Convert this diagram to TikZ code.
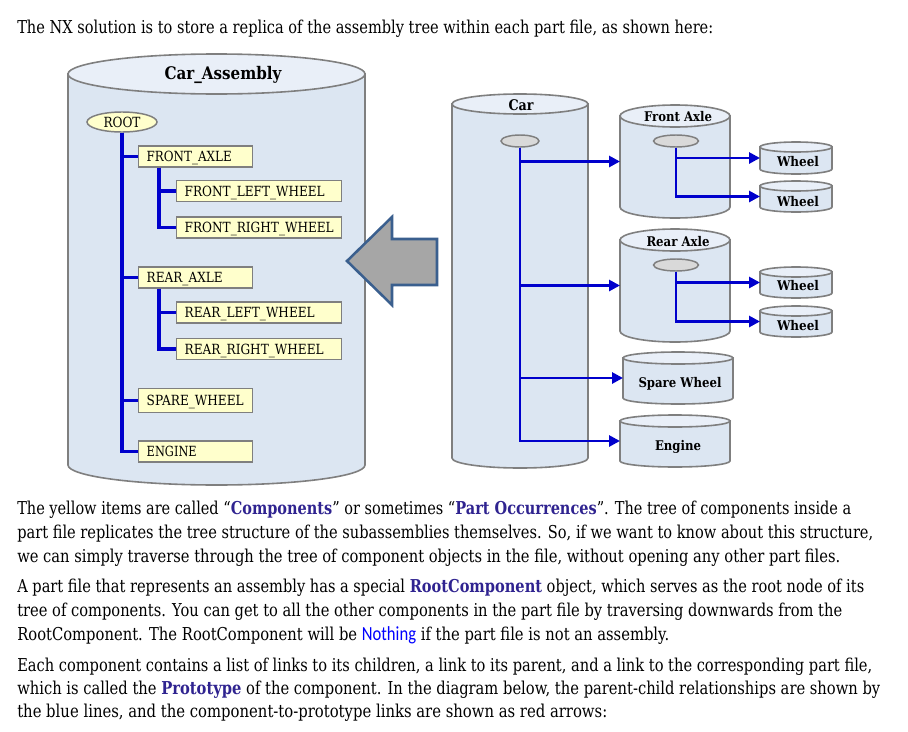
\documentclass[tikz,border=0pt]{standalone}
\usepackage{fontspec}
\setmainfont{DejaVu Serif}
\newfontfamily\calfont{Carlito}
\usepackage{graphicx}
\usetikzlibrary{arrows.meta,shapes.geometric}
\definecolor{cylbodyc}{HTML}{DCE6F2}
\definecolor{cyltopc}{HTML}{E9EFF8}
\definecolor{cyllinec}{HTML}{7F7F7F}
\definecolor{boxfillc}{HTML}{FFFFCC}
\definecolor{treeblue}{HTML}{0000CC}
\definecolor{arrowgray}{HTML}{A6A6A6}
\definecolor{arrowblue}{HTML}{3A5F8E}
\definecolor{smallgray}{HTML}{D9D9D9}
\definecolor{hl}{HTML}{2F2390}
\definecolor{nblue}{HTML}{0000FF}
\newsavebox\fitbox
\newlength\fitlen
\newcommand\fitw[2]{\sbox\fitbox{#2}\setlength\fitlen{\wd\fitbox}\pgfmathsetmacro\fitsx{#1*0.75/\fitlen}\scalebox{\fitsx}[1]{\usebox\fitbox}}
% cylinder: #1 name, #2 x1, #3 x2, #4 y of top ellipse centre, #5 y of bottom arc centre, #6 ry
\newcommand\mycyl[6]{%
  \pgfmathsetmacro\cylrx{(#3-#2)/2*0.75}%
  \pgfmathsetmacro\cylry{#6*0.75}%
  \pgfmathsetmacro\cylcx{(#2+#3)/2}%
  \pgfmathsetmacro\cylcy{(#4+#5)/2}%
  \path[cylbody] (#2,#4) -- (#2,#5) arc[start angle=180,end angle=360,x radius=\cylrx pt,y radius=\cylry pt] -- (#3,#4) -- cycle;
  \path[cyltop] (\cylcx,#4) ellipse[x radius=\cylrx pt,y radius=\cylry pt];
  \node[inner sep=0pt,outer sep=0pt,minimum width={(#3-#2)*0.75pt},minimum height={(#5-#4)*0.75pt}] (#1) at (\cylcx,\cylcy) {};
}
\begin{document}
\begin{tikzpicture}[x=0.75pt,y=-0.75pt,
  cylbody/.style={fill=cylbodyc,draw=cyllinec,line width=1.2pt},
  cyltop/.style={fill=cyltopc,draw=cyllinec,line width=1.2pt},
  smallell/.style={ellipse,draw=cyllinec,fill=smallgray,line width=1.1pt,inner sep=0pt},
  box/.style={rectangle,draw=cyllinec,fill=boxfillc,line width=1.1pt,anchor=west,
    minimum height=21*0.75pt,text height=7.5pt,text depth=0pt,inner xsep=8*0.75pt,inner ysep=0pt,
    align=left,font=\fontsize{10.5pt}{12pt}\selectfont},
  shortbox/.style={box,text width=98*0.75pt},
  longbox/.style={box,text width=149*0.75pt},
  tree/.style={draw=treeblue,line width=2.3pt},
  conn/.style={draw=treeblue,line width=2.2pt,-{Triangle[length=8.25pt,width=8.25pt]}},
  lbl/.style={anchor=base,inner sep=0pt,font=\fontsize{10pt}{12pt}\selectfont\bfseries},
  txt/.style={anchor=base west,inner sep=0pt,font=\fontsize{13.3pt}{16pt}\selectfont}]
\useasboundingbox (0,0) rectangle (908,732);
\fill[white] (0,0) rectangle (908,732);

% ---------- cylinders ----------
\mycyl{cBig}{68}{365}{74}{465}{20}
\mycyl{cCar}{452}{588}{104}{458}{10}
\mycyl{cFA}{620}{730}{116}{207}{11}
\mycyl{cRA}{620}{730}{240}{331}{11}
\mycyl{cW1}{760}{832}{147}{169}{5}
\mycyl{cW2}{760}{832}{186}{207}{5}
\mycyl{cW3}{760}{832}{272}{293}{5}
\mycyl{cW4}{760}{832}{311}{332}{5}
\mycyl{cSW}{623}{733}{358}{398}{6}
\mycyl{cEN}{620}{730}{421}{461}{6}

% ---------- cylinder labels ----------
\node[lbl,font=\fontsize{13pt}{15pt}\selectfont\bfseries] (lBig) at (223,79) {\fitw{117}{Car\_Assembly}};
\node[lbl,font=\fontsize{11pt}{13pt}\selectfont\bfseries] (lCar) at (521,110) {\fitw{25}{Car}};
\node[lbl] (lFA) at (678,121) {\fitw{68}{Front Axle}};
\node[lbl] (lRA) at (678,246) {\fitw{63}{Rear Axle}};
\node[lbl] (lW1) at (798,166) {\fitw{42}{Wheel}};
\node[lbl] (lW2) at (798,206) {\fitw{42}{Wheel}};
\node[lbl] (lW3) at (798,290) {\fitw{42}{Wheel}};
\node[lbl] (lW4) at (798,330) {\fitw{42}{Wheel}};
\node[lbl] (lSW) at (680,387) {\fitw{83}{Spare Wheel}};
\node[lbl] (lEN) at (678,450) {\fitw{46}{Engine}};

% ---------- gray arrow ----------
\filldraw[fill=arrowgray,draw=arrowblue,line width=1.9pt,line join=miter]
  (347,261) -- (392,217) -- (392,239) -- (437,239) -- (437,285) -- (392,285) -- (392,305) -- cycle;

% ---------- component tree ----------
\node[ellipse,draw=cyllinec,fill=boxfillc,line width=1.1pt,inner sep=0pt,
  minimum width=70*0.75pt,minimum height=20*0.75pt,font=\fontsize{10.5pt}{12pt}\selectfont] (root) at (122,122) {\fitw{37}{ROOT}};
\node[shortbox] (fa) at (138,156.5) {\fitw{85}{FRONT\_AXLE}};
\node[longbox] (flw) at (176,191) {\fitw{140}{FRONT\_LEFT\_WHEEL}};
\node[longbox] (frw) at (176,227.5) {\fitw{149}{FRONT\_RIGHT\_WHEEL}};
\node[shortbox] (ra) at (138,277.5) {\fitw{76}{REAR\_AXLE}};
\node[longbox] (rlw) at (176,312.5) {\fitw{130}{REAR\_LEFT\_WHEEL}};
\node[longbox] (rrw) at (176,349) {\fitw{139}{REAR\_RIGHT\_WHEEL}};
\node[shortbox,minimum height=24*0.75pt] (sw) at (138,400.5) {\fitw{97}{SPARE\_WHEEL}};
\node[shortbox] (en) at (138,451.5) {\fitw{50}{ENGINE}};

\draw[tree] (root.south) |- (fa.west);
\draw[tree] (root.south) |- (ra.west);
\draw[tree] (root.south) |- (sw.west);
\draw[tree] (root.south) |- (en.west);
\draw[tree] ([xshift=21*0.75pt]fa.south west) |- (flw.west);
\draw[tree] ([xshift=21*0.75pt]fa.south west) |- (frw.west);
\draw[tree] ([xshift=21*0.75pt]ra.south west) |- (rlw.west);
\draw[tree] ([xshift=21*0.75pt]ra.south west) |- (rrw.west);

% ---------- prototype tree ----------
\node[smallell,minimum width=38*0.75pt,minimum height=12*0.75pt] (eCar) at (520,141) {};
\node[smallell,minimum width=45*0.75pt,minimum height=12*0.75pt] (eFA) at (676,141) {};
\node[smallell,minimum width=45*0.75pt,minimum height=12*0.75pt] (eRA) at (676,265) {};

\draw[conn] (eCar.south) |- (cFA.west);
\draw[conn] (eCar.south) |- (cRA.west);
\draw[conn] (eCar.south) |- (cSW.west);
\draw[conn] (eCar.south) |- (cEN.west);
\draw[conn] (eFA.south) |- (cW1.west);
\draw[conn] (eFA.south) |- (cW2.west);
\draw[conn] (eRA.south) |- (cW3.west);
\draw[conn] (eRA.south) |- (cW4.west);

% ---------- text ----------
\node[txt] (t0) at (17,33) {\fitw{696}{The NX solution is to store a replica of the assembly tree within each part file, as shown here:}};
\node[txt] (t1) at (17,514) {\fitw{834}{The yellow items are called “{\bfseries\color{hl}Components}” or sometimes “{\bfseries\color{hl}Part Occurrences}”. The tree of components inside a}};
\node[txt] (t2) at (17,538) {\fitw{856}{part file replicates the tree structure of the subassemblies themselves. So, if we want to know about this structure,}};
\node[txt] (t3) at (17,562) {\fitw{823}{we can simply traverse through the tree of component objects in the file, without opening any other part files.}};
\node[txt] (t4) at (17,592) {\fitw{847}{A part file that represents an assembly has a special {\bfseries\color{hl}RootComponent} object, which serves as the root node of its}};
\node[txt] (t5) at (17,616) {\fitw{825}{tree of components. You can get to all the other components in the part file by traversing downwards from the}};
\node[txt] (t6) at (17,640) {\fitw{652}{RootComponent. The RootComponent will be {\calfont\fontsize{15pt}{16pt}\selectfont\color{nblue}Nothing} if the part file is not an assembly.}};
\node[txt] (t7) at (17,671) {\fitw{855}{Each component contains a list of links to its children, a link to its parent, and a link to the corresponding part file,}};
\node[txt] (t8) at (17,694) {\fitw{863}{which is called the {\bfseries\color{hl}Prototype} of the component. In the diagram below, the parent-child relationships are shown by}};
\node[txt] (t9) at (17,717) {\fitw{590}{the blue lines, and the component-to-prototype links are shown as red arrows:}};
\end{tikzpicture}
\end{document}
